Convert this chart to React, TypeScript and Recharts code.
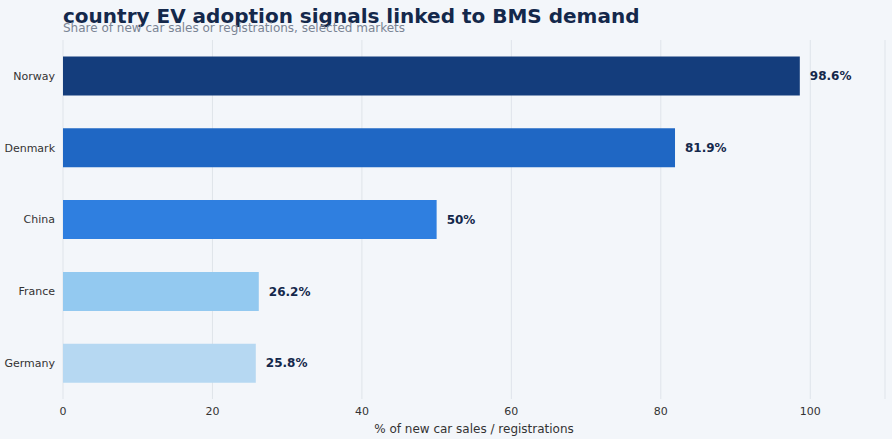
import { BarChart, Bar, XAxis, YAxis, CartesianGrid, LabelList, Cell } from "recharts";

const countries = ["Norway", "Denmark", "China", "France", "Germany"];
const shares = [98.6, 81.9, 50, 26.2, 25.8];
const barColors = ["#143d7c", "#1f67c4", "#2f7fe0", "#93c9f0", "#b6d8f2"];
const xTicks = [0, 20, 40, 60, 80, 100];

const data = countries.map((c, i) => ({ country: c, share: shares[i] }));

export default function App() {
  return (
    <div style={{ position: "absolute", left: 0, top: 0, width: 892, height: 439, background: "#f3f6fa", fontFamily: "DejaVu Sans, sans-serif", overflow: "hidden" }}>
      <div style={{ position: "absolute", left: 63, top: 4, fontSize: 20, fontWeight: 700, color: "#14284b", whiteSpace: "nowrap" }}>
        country EV adoption signals linked to BMS demand
      </div>
      <div style={{ position: "absolute", left: 63, top: 21, fontSize: 12, color: "#7a8494", whiteSpace: "nowrap" }}>
        Share of new car sales or registrations, selected markets
      </div>
      <BarChart width={892} height={439} data={data} layout="vertical" margin={{ top: 40, right: 7, left: 0, bottom: 0 }} barCategoryGap="23%">
        <CartesianGrid horizontal={false} stroke="#dfe4ea" />
        <XAxis
          type="number"
          domain={[0, 110]}
          ticks={xTicks}
          tick={{ fontSize: 11, fill: "#333" }}
          tickLine={false}
          axisLine={false}
          height={40}
          label={{ value: "% of new car sales / registrations", position: "insideBottom", offset: 6, style: { fontSize: 12, fill: "#333" } }}
        />
        <YAxis type="category" dataKey="country" width={63} tick={{ fontSize: 11, fill: "#333" }} tickLine={false} axisLine={false} />
        <Bar dataKey="share" isAnimationActive={false}>
          {data.map((d, i) => (
            <Cell key={d.country} fill={barColors[i]} />
          ))}
          <LabelList dataKey="share" position="right" offset={10} formatter={(v: number) => `${v}%`} style={{ fontSize: 12, fontWeight: 700, fill: "#14284b" }} />
        </Bar>
      </BarChart>
    </div>
  );
}
